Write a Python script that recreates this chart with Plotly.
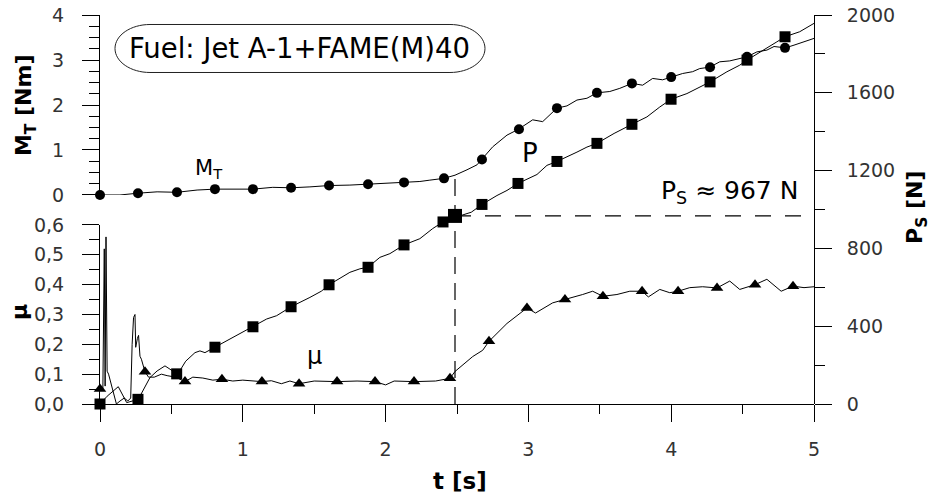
import plotly.graph_objects as go

# ---------------- data ----------------
t_mt = [0.00, 0.14, 0.266, 0.40, 0.539, 0.68, 0.805, 0.95, 1.071, 1.21, 1.338, 1.47, 1.604, 1.75,
        1.877, 2.01, 2.129, 2.24, 2.31, 2.409, 2.486, 2.54, 2.57, 2.64, 2.675, 2.75, 2.85, 2.93,
        3.03, 3.10, 3.20, 3.27, 3.34, 3.41, 3.48, 3.57, 3.64, 3.725, 3.80, 3.87, 3.94, 4.00, 4.08,
        4.15, 4.20, 4.27, 4.34, 4.41, 4.48, 4.53, 4.60, 4.67, 4.72, 4.80, 4.86, 4.93, 5.00]
mt = [0.00, 0.00, 0.04, 0.07, 0.06, 0.11, 0.13, 0.13, 0.13, 0.17, 0.16, 0.18, 0.21, 0.22,
      0.24, 0.26, 0.28, 0.30, 0.33, 0.37, 0.44, 0.51, 0.56, 0.67, 0.79, 1.07, 1.33, 1.46,
      1.67, 1.63, 1.93, 1.98, 2.11, 2.15, 2.27, 2.30, 2.37, 2.48, 2.44, 2.59, 2.56, 2.62, 2.70,
      2.74, 2.81, 2.84, 2.96, 2.98, 3.04, 3.07, 3.18, 3.22, 3.30, 3.27, 3.33, 3.41, 3.48]
t_mt_mk = [0, 0.266, 0.539, 0.805, 1.071, 1.338, 1.604, 1.877, 2.129, 2.409, 2.675, 2.934,
           3.20, 3.48, 3.725, 4.0, 4.272, 4.531, 4.797]
mt_mk = [0, 0.04, 0.06, 0.13, 0.13, 0.16, 0.21, 0.24, 0.28, 0.37, 0.79, 1.46, 1.93, 2.27,
         2.48, 2.62, 2.84, 3.07, 3.27]

t_p = [0, 0.05, 0.128, 0.187, 0.268, 0.35, 0.40, 0.455, 0.49, 0.537, 0.56, 0.60, 0.665, 0.70,
       0.735, 0.805, 0.933, 0.98, 1.071, 1.167, 1.237, 1.338, 1.47, 1.55, 1.604, 1.75, 1.82,
       1.877, 1.96, 2.03, 2.129, 2.24, 2.33, 2.402, 2.486, 2.54, 2.60, 2.675, 2.78, 2.85, 2.927,
       3.06, 3.13, 3.20, 3.34, 3.41, 3.48, 3.60, 3.725, 3.83, 3.92, 3.999, 4.11, 4.20, 4.272,
       4.39, 4.48, 4.531, 4.67, 4.74, 4.797, 4.90, 5.0]
p = [0, 40, 89, 7, 24, 136, 170, 196, 179, 155, 172, 220, 264, 273,
     264, 292, 342, 361, 397, 437, 454, 500, 548, 580, 613, 677, 695,
     703, 754, 773, 818, 850, 902, 936, 967, 972, 986, 1026, 1072, 1098, 1134,
     1180, 1227, 1247, 1295, 1321, 1340, 1391, 1438, 1476, 1527, 1567, 1596, 1627, 1656,
     1708, 1742, 1768, 1828, 1862, 1888, 1914, 1957]
t_p_mk = [0, 0.266, 0.537, 0.805, 1.071, 1.338, 1.604, 1.877, 2.129, 2.402, 2.675, 2.927,
          3.20, 3.48, 3.725, 3.999, 4.272, 4.531, 4.797]
p_mk = [0, 24, 155, 292, 397, 500, 613, 703, 818, 936, 1026, 1134, 1247, 1340, 1438, 1567,
        1656, 1768, 1888]

t_mu = [0, 0.02, 0.03, 0.036, 0.042, 0.05, 0.06, 0.09, 0.115, 0.14, 0.17, 0.195, 0.215, 0.225,
        0.235, 0.245, 0.25, 0.262, 0.27, 0.28, 0.29, 0.315, 0.34, 0.38, 0.43, 0.47, 0.53, 0.595,
        0.65, 0.72, 0.79, 0.854, 0.93, 1.0, 1.134, 1.2, 1.27, 1.33, 1.394, 1.5, 1.66, 1.80, 1.926,
        2.0, 2.06, 2.199, 2.35, 2.451, 2.486, 2.61, 2.68, 2.724, 2.85, 2.99, 3.05, 3.17, 3.256,
        3.38, 3.45, 3.522, 3.62, 3.71, 3.796, 3.84, 3.92, 3.99, 4.048, 4.13, 4.22, 4.321, 4.41,
        4.48, 4.587, 4.67, 4.77, 4.853, 4.93, 5.0]
mu = [0.05, 0.05, 0.52, 0.06, 0.56, 0.11, 0.10, 0.04, 0.0, 0.01, 0.02, 0.01, 0.02, 0.20,
      0.29, 0.30, 0.19, 0.22, 0.23, 0.16, 0.15, 0.108, 0.09, 0.09, 0.10, 0.095, 0.09, 0.075,
      0.09, 0.087, 0.08, 0.083, 0.077, 0.08, 0.075, 0.078, 0.068, 0.077, 0.068, 0.077, 0.075,
      0.077, 0.075, 0.064, 0.077, 0.075, 0.077, 0.086, 0.109, 0.159, 0.18, 0.21, 0.27, 0.322,
      0.305, 0.339, 0.35, 0.367, 0.378, 0.361, 0.367, 0.378, 0.378, 0.359, 0.384, 0.373, 0.378,
      0.39, 0.393, 0.389, 0.412, 0.384, 0.40, 0.418, 0.378, 0.395, 0.39, 0.393]
t_mu_mk = [0, 0.315, 0.595, 0.854, 1.134, 1.394, 1.66, 1.926, 2.199, 2.451, 2.724, 2.99,
           3.256, 3.522, 3.796, 4.048, 4.321, 4.587, 4.853]
mu_mk = [0.05, 0.108, 0.075, 0.083, 0.075, 0.068, 0.075, 0.075, 0.075, 0.086, 0.21, 0.322,
         0.35, 0.361, 0.378, 0.378, 0.389, 0.40, 0.395]

t_s = 2.486          # seizure time [s]
p_s = 967            # seizure load [N]
p_s_line_top = 1175  # top of the vertical marker line (at the torque curve), in N

x_ticks = [0, 1, 2, 3, 4, 5]
fuel_label = "Fuel: Jet A-1+FAME(M)40"

# ---------------- figure ----------------
FONT = "DejaVu Sans"
BLACK = "black"
fig = go.Figure()

fig.add_trace(go.Scatter(x=t_mt, y=mt, mode="lines", xaxis="x", yaxis="y",
                         line=dict(color=BLACK, width=1), showlegend=False))
fig.add_trace(go.Scatter(x=t_mt_mk, y=mt_mk, mode="markers", xaxis="x", yaxis="y",
                         marker=dict(symbol="circle", size=10, color=BLACK),
                         cliponaxis=False, showlegend=False))

fig.add_trace(go.Scatter(x=t_mu, y=mu, mode="lines", xaxis="x", yaxis="y2",
                         line=dict(color=BLACK, width=1), showlegend=False))
fig.add_trace(go.Scatter(x=t_mu_mk, y=mu_mk, mode="markers", xaxis="x", yaxis="y2",
                         marker=dict(symbol="triangle-up", size=11, color=BLACK),
                         cliponaxis=False, showlegend=False))

fig.add_trace(go.Scatter(x=t_p, y=p, mode="lines", xaxis="x", yaxis="y3",
                         line=dict(color=BLACK, width=1), showlegend=False))
fig.add_trace(go.Scatter(x=t_p_mk, y=p_mk, mode="markers", xaxis="x", yaxis="y3",
                         marker=dict(symbol="square", size=11, color=BLACK),
                         cliponaxis=False, showlegend=False))
fig.add_trace(go.Scatter(x=[t_s], y=[p_s], mode="markers", xaxis="x", yaxis="y3",
                         marker=dict(symbol="square", size=14, color=BLACK),
                         cliponaxis=False, showlegend=False))

# dashed reference lines
fig.add_shape(type="line", xref="x", yref="y3", x0=t_s, x1=x_ticks[-1], y0=p_s, y1=p_s,
              line=dict(color=BLACK, width=1.2, dash="16px,14px"))
fig.add_shape(type="line", xref="x", yref="y3", x0=t_s, x1=t_s, y0=0, y1=p_s_line_top,
              line=dict(color=BLACK, width=1.2, dash="17px,9px"))

tickfont = dict(family=FONT, size=19, color="#333")
common = dict(showline=True, linecolor=BLACK, linewidth=1, ticks="outside", ticklen=17,
              tickwidth=1, tickcolor=BLACK, showgrid=False, zeroline=False,
              tickfont=tickfont, fixedrange=True, automargin=False)

fig.update_layout(
    width=941, height=499,
    margin=dict(l=100, r=127, t=15, b=95, autoexpand=False),
    paper_bgcolor="white", plot_bgcolor="rgba(0,0,0,0)",
    separators=",.",
    showlegend=False,
    hovermode=False,
    xaxis=dict(range=[0, 5], domain=[0, 1], anchor="y2", tickvals=x_ticks,
               minor=dict(dtick=0.5, ticklen=9, tickcolor=BLACK, ticks="outside"),
               ticklabelstandoff=11, **common),
    yaxis=dict(range=[0, 4], domain=[0.5373, 1], anchor="x", dtick=1,
               minor=dict(dtick=0.25, ticklen=10, tickcolor=BLACK, ticks="outside"),
               ticklabelstandoff=14, **common),
    yaxis2=dict(range=[0, 0.6], domain=[0, 0.4602], anchor="x", dtick=0.1, tickformat=".1f",
                minor=dict(dtick=0.05, ticklen=10, tickcolor=BLACK, ticks="outside"),
                ticklabelstandoff=14, **common),
    yaxis3=dict(range=[0, 2000], domain=[0, 1], anchor="x", side="right", dtick=400,
                minor=dict(dtick=200, ticklen=10, tickcolor=BLACK, ticks="outside"),
                ticklabelstandoff=11, **common),
)

# Fuel box (stadium shape) drawn in pixels around a paper anchor
hw, hh, rx = 185, 24, 35
k = 0.5523
sx = hw - rx
path = (f"M {-sx},{hh} L {sx},{hh} "
        f"C {sx + rx * k},{hh} {hw},{hh * k} {hw},0 "
        f"C {hw},{-hh * k} {sx + rx * k},{-hh} {sx},{-hh} "
        f"L {-sx},{-hh} "
        f"C {-sx - rx * k},{-hh} {-hw},{-hh * k} {-hw},0 "
        f"C {-hw},{hh * k} {-sx - rx * k},{hh} {-sx},{hh} Z")
fig.add_shape(type="path", xref="paper", yref="paper", xsizemode="pixel", ysizemode="pixel",
              xanchor=0.2801, yanchor=0.9139, path=path, line=dict(color="#222", width=1))

C = dict(xanchor="center", yanchor="middle", showarrow=False)
ann = []
ann.append(dict(text=fuel_label, xref="paper", yref="paper", x=0.2801, y=0.9139,
                font=dict(family=FONT, size=27.5, color=BLACK), **C))
ann.append(dict(text="M<sub>T</sub>", xref="x", yref="y", x=0.76, y=0.58,
                font=dict(family=FONT, size=21, color=BLACK), **C))
ann.append(dict(text="P", xref="x", yref="y3", x=3.01, y=1290,
                font=dict(family=FONT, size=26, color=BLACK), **C))
ann.append(dict(text="μ", xref="x", yref="y2", x=1.50, y=0.16,
                font=dict(family=FONT, size=24, color=BLACK), **C))
ann.append(dict(text="P<sub>S</sub> ≈ 967 N", xref="x", yref="y3", x=4.90, y=1090,
                xanchor="right", yanchor="middle", showarrow=False,
                font=dict(family=FONT, size=25, color=BLACK)))
# axis titles
ann.append(dict(text="<b>M<sub>T</sub> [Nm]</b>", xref="paper", yref="paper", x=-0.105, y=0.7686,
                textangle=-90, font=dict(family=FONT, size=22, color=BLACK), **C))
ann.append(dict(text="<b>μ</b>", xref="paper", yref="paper", x=-0.1134, y=0.2365,
                textangle=-90, font=dict(family=FONT, size=22, color=BLACK), **C))
ann.append(dict(text="<b>P<sub>S</sub> [N]</b>", xref="paper", yref="paper", x=1.1443, y=0.504,
                textangle=-90, font=dict(family=FONT, size=22, color=BLACK), **C))
ann.append(dict(text="<b>t [s]</b>", xref="paper", yref="paper", x=0.504, y=-0.198,
                font=dict(family=FONT, size=23, color=BLACK), **C))
fig.update_layout(annotations=ann)

# remove the default page margin so the 941x499 figure fills the window exactly
fig.write_html("out.html", config={"displayModeBar": False, "staticPlot": True},
               post_script="document.body.style.margin='0';")
